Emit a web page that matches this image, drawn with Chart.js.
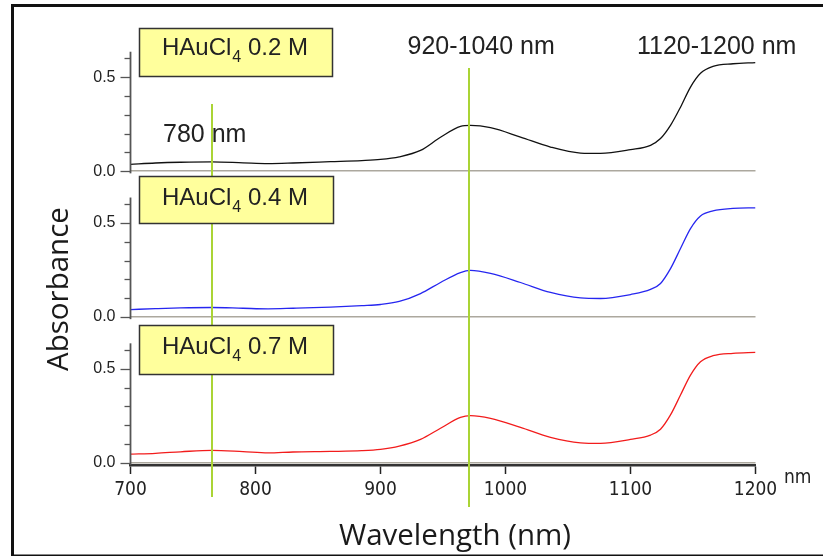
<!DOCTYPE html>
<html>
<head>
<meta charset="utf-8">
<script src="https://cdn.jsdelivr.net/npm/chart.js@4.4.1/dist/chart.umd.min.js"></script>
<style>
  html, body { margin: 0; padding: 0; background: #fff; }
</style>
</head>
<body>
<canvas id="myChart" width="823" height="556"></canvas>
<script>
// values (nm, absorbance)
const wavelengths = [700, 720, 740, 765, 790, 810, 830, 860, 885, 900, 915, 932, 948, 964, 972, 988,
  1012, 1036, 1060, 1076, 1100, 1116, 1124, 1132, 1140, 1148, 1156, 1166, 1182, 1200];
const abs02 = [0.036, 0.043, 0.047, 0.049, 0.044, 0.040, 0.043, 0.050, 0.056, 0.062, 0.076, 0.110, 0.180, 0.238, 0.243, 0.231,
  0.181, 0.128, 0.096, 0.094, 0.114, 0.137, 0.173, 0.243, 0.340, 0.447, 0.520, 0.557, 0.571, 0.577];
const abs04 = [0.039, 0.044, 0.048, 0.050, 0.046, 0.043, 0.046, 0.052, 0.060, 0.066, 0.082, 0.124, 0.183, 0.236, 0.247, 0.231,
  0.183, 0.130, 0.101, 0.098, 0.119, 0.146, 0.178, 0.257, 0.364, 0.470, 0.537, 0.564, 0.577, 0.580];
const abs07 = [0.046, 0.050, 0.058, 0.066, 0.059, 0.052, 0.057, 0.060, 0.064, 0.071, 0.088, 0.124, 0.183, 0.241, 0.250, 0.236,
  0.188, 0.135, 0.106, 0.103, 0.124, 0.147, 0.178, 0.254, 0.360, 0.466, 0.537, 0.569, 0.582, 0.587];

const xTicks = [700, 800, 900, 1000, 1100, 1200];
const yTicks = [0, 0.1, 0.2, 0.3, 0.4, 0.5, 0.6];
const concLabels = ['0.2 M', '0.4 M', '0.7 M'];
const guideWl = [765, 971];

const numFont = '"Liberation Sans", Arial, sans-serif';
const narrowFont = '"Liberation Sans Narrow", "DejaVu Sans Condensed", sans-serif';
const titleFont = '"Open Sans", "Noto Sans", sans-serif';

function points(vals) {
  return wavelengths.map((w, i) => ({ x: w, y: vals[i] }));
}

function panelAxis() {
  return {
    type: 'linear',
    position: 'left',
    stack: 'abs',
    stackWeight: 1,
    min: -0.0122,
    max: 0.7633,
    afterBuildTicks: s => { s.ticks = yTicks.map(v => ({ value: v })); },
    afterFit: s => { s.width = 130.5; },
    border: { display: false },
    grid: {
      drawTicks: false,
      lineWidth: 1.5,
      color: c => (c.tick && c.tick.value === 0) ? '#aca89e' : 'rgba(0,0,0,0)'
    },
    ticks: {
      autoSkip: false,
      padding: 15,
      color: '#222',
      font: { family: numFont, size: 16 },
      callback: v => (v === 0 || v === 0.5) ? v.toFixed(1) : ''
    }
  };
}

// axis lines, ticks, marker lines, boxes and labels
const decor = {
  id: 'decor',
  beforeDraw(chart) {
    const ctx = chart.ctx;
    ctx.save();
    ctx.fillStyle = '#fff';
    ctx.fillRect(0, 0, chart.width, chart.height);
    ctx.restore();
  },
  afterDatasetsDraw(chart) {
    const ctx = chart.ctx;
    const left = chart.chartArea.left;
    ctx.save();
    ['y1', 'y2', 'y3'].forEach(id => {
      const s = chart.scales[id];
      ctx.strokeStyle = '#555';
      ctx.lineWidth = 1.8;
      ctx.beginPath();
      ctx.moveTo(left, s.getPixelForValue(0.635));
      ctx.lineTo(left, s.getPixelForValue(-0.012));
      ctx.stroke();
      ctx.lineWidth = 1.3;
      yTicks.forEach(v => {
        const y = Math.round(s.getPixelForValue(v)) + 0.5;
        const len = (v === 0 || v === 0.5) ? 10 : 6;
        ctx.beginPath();
        ctx.moveTo(left - len, y);
        ctx.lineTo(left, y);
        ctx.stroke();
      });
    });

    // vertical marker lines
    const x = chart.scales.x;
    const y1 = chart.scales.y1;
    const guideTop = [y1.getPixelForValue(0.357), y1.getPixelForValue(0.548)];
    const guideBottom = [chart.chartArea.bottom + 32, chart.chartArea.bottom + 42];
    ctx.strokeStyle = '#aad435';
    ctx.lineWidth = 2;
    guideWl.forEach((w, i) => {
      const px = Math.round(x.getPixelForValue(w));
      ctx.beginPath();
      ctx.moveTo(px, guideTop[i]);
      ctx.lineTo(px, guideBottom[i]);
      ctx.stroke();
    });
    ctx.restore();
  },
  afterDraw(chart) {
    const ctx = chart.ctx;
    ctx.save();

    // yellow sample boxes
    const boxes = [[139, 28, 193, 48], [139, 176, 194, 47], [139, 325, 194, 49]];
    const baselines = [55, 205, 354];
    boxes.forEach((b, i) => {
      ctx.fillStyle = '#ffff9c';
      ctx.fillRect(b[0], b[1], b[2], b[3]);
      ctx.strokeStyle = '#333';
      ctx.lineWidth = 1.5;
      ctx.strokeRect(b[0] + 0.5, b[1] + 0.5, b[2], b[3]);

      ctx.fillStyle = '#222';
      ctx.textBaseline = 'alphabetic';
      ctx.textAlign = 'left';
      let tx = 162;
      ctx.font = '24px ' + numFont;
      ctx.fillText('HAuCl', tx, baselines[i]);
      tx += ctx.measureText('HAuCl').width + 1;
      ctx.font = '16px ' + numFont;
      ctx.fillText('4', tx, baselines[i] + 7);
      tx += ctx.measureText('4').width;
      ctx.font = '24px ' + numFont;
      ctx.fillText(' ' + concLabels[i], tx, baselines[i]);
    });

    // band labels
    ctx.font = '25px ' + numFont;
    ctx.fillStyle = '#222';
    ctx.fillText('780 nm', 163, 141.5);
    ctx.fillText('920-1040 nm', 407.5, 53.5);
    ctx.fillText('1120-1200 nm', 637, 53.5);

    // unit
    ctx.font = '19px ' + narrowFont;
    ctx.fillText('nm', 784, 483);

    // axis titles
    ctx.font = '29.5px ' + titleFont;
    ctx.fillStyle = '#1a1a1a';
    ctx.textAlign = 'center';
    ctx.fillText('Wavelength (nm)', 455, 545);
    ctx.save();
    ctx.translate(68, 289);
    ctx.rotate(-Math.PI / 2);
    ctx.fillText('Absorbance', 0, 0);
    ctx.restore();

    // frame
    ctx.fillStyle = '#111';
    ctx.fillRect(11, 4, 3, 552);
    ctx.fillRect(11, 4, 812, 3);
    ctx.fillRect(11, 554.5, 812, 1.5);
    ctx.restore();
  }
};

const ctx = document.getElementById('myChart').getContext('2d');

// stacked y axes: the first one listed sits at the bottom
const myChart = new Chart(ctx, {
  type: 'line',
  data: {
    datasets: [
      { label: 'HAuCl4 0.2 M', data: points(abs02), yAxisID: 'y1', borderColor: '#111', borderWidth: 1.3 },
      { label: 'HAuCl4 0.4 M', data: points(abs04), yAxisID: 'y2', borderColor: '#2626f0', borderWidth: 1.3 },
      { label: 'HAuCl4 0.7 M', data: points(abs07), yAxisID: 'y3', borderColor: '#f21c1c', borderWidth: 1.3 }
    ]
  },
  options: {
    responsive: false,
    animation: false,
    devicePixelRatio: 1,
    elements: {
      point: { radius: 0 },
      line: { cubicInterpolationMode: 'monotone', fill: false }
    },
    layout: { padding: { left: 0, right: 67.5, top: 27.6, bottom: 31 } },
    plugins: { legend: { display: false }, tooltip: { enabled: false } },
    scales: {
      x: {
        type: 'linear',
        min: 700,
        max: 1200,
        afterBuildTicks: s => { s.ticks = xTicks.map(v => ({ value: v })); },
        afterFit: s => { s.height = 60; },
        border: { color: '#333', width: 2.5 },
        grid: { drawOnChartArea: false, tickLength: 9, tickColor: '#222', tickWidth: 1.5 },
        ticks: {
          autoSkip: false,
          maxRotation: 0,
          padding: 5,
          color: '#222',
          font: { family: narrowFont, size: 19 },
          callback: v => String(v)
        }
      },
      y3: panelAxis(),
      y2: panelAxis(),
      y1: panelAxis()
    }
  },
  plugins: [decor]
});
</script>
</body>
</html>
